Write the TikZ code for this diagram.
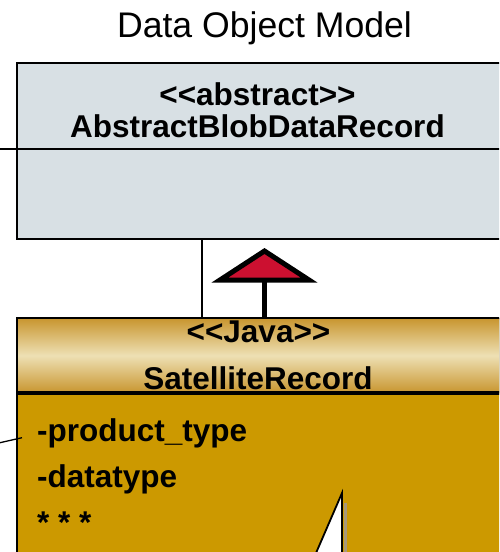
\documentclass[tikz,border=0pt]{standalone}
\usepackage{fontspec}
\setmainfont{Liberation Sans}
\definecolor{absfill}{HTML}{D8E0E4}
\definecolor{goldedge}{HTML}{C8952E}
\definecolor{goldmid}{HTML}{EEE0B4}
\definecolor{goldbody}{HTML}{CC9900}
\definecolor{genred}{HTML}{CC1030}
\definecolor{shadowgray}{HTML}{A89878}
\tikzset{
  boxline/.style={draw=black, line width=2.4pt},
  thinline/.style={draw=black, line width=1.5pt},
  classtext/.style={anchor=base, inner sep=0pt, font=\fontsize{31.5}{36}\bfseries\selectfont},
  attrtext/.style={anchor=base west, inner sep=0pt, font=\fontsize{31.5}{36}\bfseries\selectfont},
}
\begin{document}
\begin{tikzpicture}[x=1pt, y=-1pt]
\useasboundingbox (0,0) rectangle (499,552);
\clip (0,0) rectangle (499,552);

% title
\node[anchor=base, inner sep=0pt, font=\fontsize{35.6}{40}\selectfont] (title) at (264.5,37) {Data Object Model};

% abstract parent class
\node[boxline, fill=absfill, rectangle, inner sep=0pt, anchor=north west,
      minimum width=485pt, minimum height=176pt] (abs) at (16,62) {};
\draw[line width=2pt] (abs.west |- 0,149) -- (abs.east |- 0,149);
\coordinate (absleft) at (0,149);
\draw[thinline] (absleft) -- (abs.west |- absleft);
\node[classtext] (absstereo) at (257.5,105) {<{}<abstract>{}>};
\node[classtext] (absname) at (257.5,137) {AbstractBlobDataRecord};

% satellite record class
\node[rectangle, inner sep=0pt, anchor=north west, fill=goldbody,
      minimum width=484pt, minimum height=260pt] (sat) at (17,318) {};
\fill[top color=goldedge, bottom color=goldedge, middle color=goldmid]
  (sat.north west) rectangle (sat.east |- 0,393);
\draw[boxline, line width=2.7pt] (sat.north east) -- (sat.north west) -- (sat.south west);
\draw[line width=3.5pt] (sat.west |- 0,393) -- (sat.east |- 0,393);
\node[classtext] (satstereo) at (258.5,342) {<{}<Java>{}>};
\node[classtext] (satname) at (258,389) {SatelliteRecord};
\node[attrtext] (attr1) at (37,441) {-product\_type};
\node[attrtext] (attr2) at (37,487) {-datatype};
\node[attrtext] (attr3) at (37,533) {* * *};
\coordinate (satleft) at (0,442.7);
\draw[line width=1.3pt] (satleft) -- (22,437.7);

% plain link between the classes
\draw[thinline] (abs.south -| 202,0) -- (sat.north -| 202,0);

% generalization arrow
\coordinate (apex) at (264.5,251);
\coordinate (basel) at (220,280);
\coordinate (baser) at (309,280);
\draw[line width=5pt, fill=genred, miter limit=12] (apex) -- (basel) -- (baser) -- cycle;
\draw[line width=5pt] (sat.north -| apex) -- (apex |- 0,282);

% callout tail
\fill[shadowgray] (343.5,503) rectangle (347,560);
\coordinate (tail) at (342,493);
\fill[white] (tail) -- (313,560) -- (342,560) -- cycle;
\draw[line width=1.8pt] (313,560) -- (tail) -- (342,560);
\end{tikzpicture}
\end{document}
